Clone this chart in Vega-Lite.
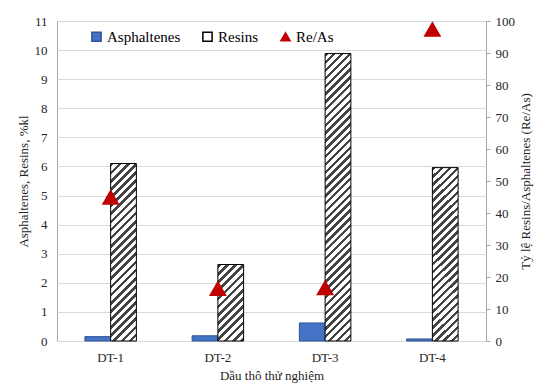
{
"$schema":"https://vega.github.io/schema/vega-lite/v6.json",
"width":429,"height":320,
"autosize":{"type":"none"},
"padding":{"left":57,"top":21,"right":53,"bottom":44},
"background":"white",
"config":{"view":{"stroke":"#a6a6a6","strokeWidth":1},"font":"Liberation Serif",
"legend":{"labelFont":"Liberation Serif","labelFontSize":15,"labelColor":"#000"},
"axis":{"labelFont":"Liberation Serif","titleFont":"Liberation Serif","labelFontSize":13,"titleFontSize":13,"titleFontWeight":"normal","labelColor":"#262626","titleColor":"#262626","domain":false}},
"data":{"values":[
{"cat":"DT-1","series":"Asphaltenes","value":0.15},{"cat":"DT-1","series":"Resins","value":6.1},{"cat":"DT-1","series":"Re/As","value":45},
{"cat":"DT-2","series":"Asphaltenes","value":0.18},{"cat":"DT-2","series":"Resins","value":2.63},{"cat":"DT-2","series":"Re/As","value":16.5},
{"cat":"DT-3","series":"Asphaltenes","value":0.62},{"cat":"DT-3","series":"Resins","value":9.88},{"cat":"DT-3","series":"Re/As","value":16.7},
{"cat":"DT-4","series":"Asphaltenes","value":0.07},{"cat":"DT-4","series":"Resins","value":5.96},{"cat":"DT-4","series":"Re/As","value":97.5}
]},
"encoding":{"x":{"field":"cat","type":"nominal","sort":null,"scale":{"paddingInner":0.52,"paddingOuter":0.26},
"axis":{"title":"Dầu thô thử nghiệm","labelAngle":0,"ticks":false,"grid":false,"labelPadding":10,"titlePadding":5}}},
"layer":[
{"transform":[{"filter":"datum.series !== 'Re/As'"}],
"mark":{"type":"bar","strokeWidth":1},
"encoding":{
"xOffset":{"field":"series","type":"nominal","sort":["Asphaltenes","Resins"],"scale":{"paddingInner":0,"paddingOuter":0}},
"y":{"field":"value","type":"quantitative","scale":{"domain":[0,11],"nice":false},
"axis":{"title":"Asphaltenes, Resins, %kl","values":[0,1,2,3,4,5,6,7,8,9,10,11],"ticks":false,"grid":true,"gridColor":"#d9d9d9","labelPadding":10,"titlePadding":4}},
"stroke":{"field":"series","type":"nominal","scale":{"domain":["Asphaltenes","Resins","Re/As"],"range":["#2F5597","#000000","#C00000"]},
"legend":{"orient":"none","legendX":32,"legendY":8,"direction":"horizontal","title":null,"padding":0,"labelFont":"Liberation Serif","labelFontSize":15,"labelColor":"#000","symbolSize":85,"columnPadding":18,"labelOffset":3}},
"fill":{"field":"series","type":"nominal",
"scale":{"domain":["Asphaltenes","Resins","Re/As"],"range":["#4472C4","#ffffff","#C00000"]},
"legend":{"orient":"none","legendX":32,"legendY":8,"direction":"horizontal","title":null,"padding":0,"labelFont":"Liberation Serif","labelFontSize":15,"labelColor":"#000","symbolSize":85,"columnPadding":18,"labelOffset":3},
"condition":[
{"test":"datum.series === 'Resins' && (datum.cat === 'DT-1' || datum.cat === 'DT-4')","value":{"gradient":"linear","x1":0,"y1":0,"x2":0.16267,"y2":1.12146,"stops":[
{"offset":0,"color":"#444"},{"offset":0.018,"color":"#444"},{"offset":0.018,"color":"#fff"},{"offset":0.04,"color":"#fff"},
{"offset":0.04,"color":"#444"},{"offset":0.058,"color":"#444"},{"offset":0.058,"color":"#fff"},{"offset":0.08,"color":"#fff"},
{"offset":0.08,"color":"#444"},{"offset":0.098,"color":"#444"},{"offset":0.098,"color":"#fff"},{"offset":0.12,"color":"#fff"},
{"offset":0.12,"color":"#444"},{"offset":0.138,"color":"#444"},{"offset":0.138,"color":"#fff"},{"offset":0.16,"color":"#fff"},
{"offset":0.16,"color":"#444"},{"offset":0.178,"color":"#444"},{"offset":0.178,"color":"#fff"},{"offset":0.2,"color":"#fff"},
{"offset":0.2,"color":"#444"},{"offset":0.218,"color":"#444"},{"offset":0.218,"color":"#fff"},{"offset":0.24,"color":"#fff"},
{"offset":0.24,"color":"#444"},{"offset":0.258,"color":"#444"},{"offset":0.258,"color":"#fff"},{"offset":0.28,"color":"#fff"},
{"offset":0.28,"color":"#444"},{"offset":0.298,"color":"#444"},{"offset":0.298,"color":"#fff"},{"offset":0.32,"color":"#fff"},
{"offset":0.32,"color":"#444"},{"offset":0.338,"color":"#444"},{"offset":0.338,"color":"#fff"},{"offset":0.36,"color":"#fff"},
{"offset":0.36,"color":"#444"},{"offset":0.378,"color":"#444"},{"offset":0.378,"color":"#fff"},{"offset":0.4,"color":"#fff"},
{"offset":0.4,"color":"#444"},{"offset":0.418,"color":"#444"},{"offset":0.418,"color":"#fff"},{"offset":0.44,"color":"#fff"},
{"offset":0.44,"color":"#444"},{"offset":0.458,"color":"#444"},{"offset":0.458,"color":"#fff"},{"offset":0.48,"color":"#fff"},
{"offset":0.48,"color":"#444"},{"offset":0.498,"color":"#444"},{"offset":0.498,"color":"#fff"},{"offset":0.52,"color":"#fff"},
{"offset":0.52,"color":"#444"},{"offset":0.538,"color":"#444"},{"offset":0.538,"color":"#fff"},{"offset":0.56,"color":"#fff"},
{"offset":0.56,"color":"#444"},{"offset":0.578,"color":"#444"},{"offset":0.578,"color":"#fff"},{"offset":0.6,"color":"#fff"},
{"offset":0.6,"color":"#444"},{"offset":0.618,"color":"#444"},{"offset":0.618,"color":"#fff"},{"offset":0.64,"color":"#fff"},
{"offset":0.64,"color":"#444"},{"offset":0.658,"color":"#444"},{"offset":0.658,"color":"#fff"},{"offset":0.68,"color":"#fff"},
{"offset":0.68,"color":"#444"},{"offset":0.698,"color":"#444"},{"offset":0.698,"color":"#fff"},{"offset":0.72,"color":"#fff"},
{"offset":0.72,"color":"#444"},{"offset":0.738,"color":"#444"},{"offset":0.738,"color":"#fff"},{"offset":0.76,"color":"#fff"},
{"offset":0.76,"color":"#444"},{"offset":0.778,"color":"#444"},{"offset":0.778,"color":"#fff"},{"offset":0.8,"color":"#fff"},
{"offset":0.8,"color":"#444"},{"offset":0.818,"color":"#444"},{"offset":0.818,"color":"#fff"},{"offset":0.84,"color":"#fff"},
{"offset":0.84,"color":"#444"},{"offset":0.858,"color":"#444"},{"offset":0.858,"color":"#fff"},{"offset":0.88,"color":"#fff"},
{"offset":0.88,"color":"#444"},{"offset":0.898,"color":"#444"},{"offset":0.898,"color":"#fff"},{"offset":0.92,"color":"#fff"},
{"offset":0.92,"color":"#444"},{"offset":0.938,"color":"#444"},{"offset":0.938,"color":"#fff"},{"offset":0.96,"color":"#fff"},
{"offset":0.96,"color":"#444"},{"offset":0.978,"color":"#444"},{"offset":0.978,"color":"#fff"},{"offset":1,"color":"#fff"}]}},
{"test":"datum.series === 'Resins' && datum.cat === 'DT-2'","value":{"gradient":"linear","x1":0,"y1":0,"x2":0.4039,"y2":1.20055,"stops":[
{"offset":0,"color":"#444"},{"offset":0.036,"color":"#444"},{"offset":0.036,"color":"#fff"},{"offset":0.08,"color":"#fff"},
{"offset":0.08,"color":"#444"},{"offset":0.116,"color":"#444"},{"offset":0.116,"color":"#fff"},{"offset":0.16,"color":"#fff"},
{"offset":0.16,"color":"#444"},{"offset":0.196,"color":"#444"},{"offset":0.196,"color":"#fff"},{"offset":0.24,"color":"#fff"},
{"offset":0.24,"color":"#444"},{"offset":0.276,"color":"#444"},{"offset":0.276,"color":"#fff"},{"offset":0.32,"color":"#fff"},
{"offset":0.32,"color":"#444"},{"offset":0.356,"color":"#444"},{"offset":0.356,"color":"#fff"},{"offset":0.4,"color":"#fff"},
{"offset":0.4,"color":"#444"},{"offset":0.436,"color":"#444"},{"offset":0.436,"color":"#fff"},{"offset":0.48,"color":"#fff"},
{"offset":0.48,"color":"#444"},{"offset":0.516,"color":"#444"},{"offset":0.516,"color":"#fff"},{"offset":0.56,"color":"#fff"},
{"offset":0.56,"color":"#444"},{"offset":0.596,"color":"#444"},{"offset":0.596,"color":"#fff"},{"offset":0.64,"color":"#fff"},
{"offset":0.64,"color":"#444"},{"offset":0.676,"color":"#444"},{"offset":0.676,"color":"#fff"},{"offset":0.72,"color":"#fff"},
{"offset":0.72,"color":"#444"},{"offset":0.756,"color":"#444"},{"offset":0.756,"color":"#fff"},{"offset":0.8,"color":"#fff"},
{"offset":0.8,"color":"#444"},{"offset":0.836,"color":"#444"},{"offset":0.836,"color":"#fff"},{"offset":0.88,"color":"#fff"},
{"offset":0.88,"color":"#444"},{"offset":0.916,"color":"#444"},{"offset":0.916,"color":"#fff"},{"offset":0.96,"color":"#fff"},
{"offset":0.96,"color":"#444"},{"offset":0.996,"color":"#444"},{"offset":0.996,"color":"#fff"},{"offset":1,"color":"#fff"}]}},
{"test":"datum.series === 'Resins' && datum.cat === 'DT-3'","value":{"gradient":"linear","x1":0,"y1":0,"x2":0.0968,"y2":1.08089,"stops":[
{"offset":0,"color":"#444"},{"offset":0.011,"color":"#444"},{"offset":0.011,"color":"#fff"},{"offset":0.025,"color":"#fff"},
{"offset":0.025,"color":"#444"},{"offset":0.036,"color":"#444"},{"offset":0.036,"color":"#fff"},{"offset":0.05,"color":"#fff"},
{"offset":0.05,"color":"#444"},{"offset":0.061,"color":"#444"},{"offset":0.061,"color":"#fff"},{"offset":0.075,"color":"#fff"},
{"offset":0.075,"color":"#444"},{"offset":0.086,"color":"#444"},{"offset":0.086,"color":"#fff"},{"offset":0.1,"color":"#fff"},
{"offset":0.1,"color":"#444"},{"offset":0.111,"color":"#444"},{"offset":0.111,"color":"#fff"},{"offset":0.125,"color":"#fff"},
{"offset":0.125,"color":"#444"},{"offset":0.136,"color":"#444"},{"offset":0.136,"color":"#fff"},{"offset":0.15,"color":"#fff"},
{"offset":0.15,"color":"#444"},{"offset":0.161,"color":"#444"},{"offset":0.161,"color":"#fff"},{"offset":0.175,"color":"#fff"},
{"offset":0.175,"color":"#444"},{"offset":0.186,"color":"#444"},{"offset":0.186,"color":"#fff"},{"offset":0.2,"color":"#fff"},
{"offset":0.2,"color":"#444"},{"offset":0.211,"color":"#444"},{"offset":0.211,"color":"#fff"},{"offset":0.225,"color":"#fff"},
{"offset":0.225,"color":"#444"},{"offset":0.236,"color":"#444"},{"offset":0.236,"color":"#fff"},{"offset":0.25,"color":"#fff"},
{"offset":0.25,"color":"#444"},{"offset":0.261,"color":"#444"},{"offset":0.261,"color":"#fff"},{"offset":0.275,"color":"#fff"},
{"offset":0.275,"color":"#444"},{"offset":0.286,"color":"#444"},{"offset":0.286,"color":"#fff"},{"offset":0.3,"color":"#fff"},
{"offset":0.3,"color":"#444"},{"offset":0.311,"color":"#444"},{"offset":0.311,"color":"#fff"},{"offset":0.325,"color":"#fff"},
{"offset":0.325,"color":"#444"},{"offset":0.336,"color":"#444"},{"offset":0.336,"color":"#fff"},{"offset":0.35,"color":"#fff"},
{"offset":0.35,"color":"#444"},{"offset":0.361,"color":"#444"},{"offset":0.361,"color":"#fff"},{"offset":0.375,"color":"#fff"},
{"offset":0.375,"color":"#444"},{"offset":0.386,"color":"#444"},{"offset":0.386,"color":"#fff"},{"offset":0.4,"color":"#fff"},
{"offset":0.4,"color":"#444"},{"offset":0.411,"color":"#444"},{"offset":0.411,"color":"#fff"},{"offset":0.425,"color":"#fff"},
{"offset":0.425,"color":"#444"},{"offset":0.436,"color":"#444"},{"offset":0.436,"color":"#fff"},{"offset":0.45,"color":"#fff"},
{"offset":0.45,"color":"#444"},{"offset":0.461,"color":"#444"},{"offset":0.461,"color":"#fff"},{"offset":0.475,"color":"#fff"},
{"offset":0.475,"color":"#444"},{"offset":0.486,"color":"#444"},{"offset":0.486,"color":"#fff"},{"offset":0.5,"color":"#fff"},
{"offset":0.5,"color":"#444"},{"offset":0.511,"color":"#444"},{"offset":0.511,"color":"#fff"},{"offset":0.525,"color":"#fff"},
{"offset":0.525,"color":"#444"},{"offset":0.536,"color":"#444"},{"offset":0.536,"color":"#fff"},{"offset":0.55,"color":"#fff"},
{"offset":0.55,"color":"#444"},{"offset":0.561,"color":"#444"},{"offset":0.561,"color":"#fff"},{"offset":0.575,"color":"#fff"},
{"offset":0.575,"color":"#444"},{"offset":0.586,"color":"#444"},{"offset":0.586,"color":"#fff"},{"offset":0.6,"color":"#fff"},
{"offset":0.6,"color":"#444"},{"offset":0.611,"color":"#444"},{"offset":0.611,"color":"#fff"},{"offset":0.625,"color":"#fff"},
{"offset":0.625,"color":"#444"},{"offset":0.636,"color":"#444"},{"offset":0.636,"color":"#fff"},{"offset":0.65,"color":"#fff"},
{"offset":0.65,"color":"#444"},{"offset":0.661,"color":"#444"},{"offset":0.661,"color":"#fff"},{"offset":0.675,"color":"#fff"},
{"offset":0.675,"color":"#444"},{"offset":0.686,"color":"#444"},{"offset":0.686,"color":"#fff"},{"offset":0.7,"color":"#fff"},
{"offset":0.7,"color":"#444"},{"offset":0.711,"color":"#444"},{"offset":0.711,"color":"#fff"},{"offset":0.725,"color":"#fff"},
{"offset":0.725,"color":"#444"},{"offset":0.736,"color":"#444"},{"offset":0.736,"color":"#fff"},{"offset":0.75,"color":"#fff"},
{"offset":0.75,"color":"#444"},{"offset":0.761,"color":"#444"},{"offset":0.761,"color":"#fff"},{"offset":0.775,"color":"#fff"},
{"offset":0.775,"color":"#444"},{"offset":0.786,"color":"#444"},{"offset":0.786,"color":"#fff"},{"offset":0.8,"color":"#fff"},
{"offset":0.8,"color":"#444"},{"offset":0.811,"color":"#444"},{"offset":0.811,"color":"#fff"},{"offset":0.825,"color":"#fff"},
{"offset":0.825,"color":"#444"},{"offset":0.836,"color":"#444"},{"offset":0.836,"color":"#fff"},{"offset":0.85,"color":"#fff"},
{"offset":0.85,"color":"#444"},{"offset":0.861,"color":"#444"},{"offset":0.861,"color":"#fff"},{"offset":0.875,"color":"#fff"},
{"offset":0.875,"color":"#444"},{"offset":0.886,"color":"#444"},{"offset":0.886,"color":"#fff"},{"offset":0.9,"color":"#fff"},
{"offset":0.9,"color":"#444"},{"offset":0.911,"color":"#444"},{"offset":0.911,"color":"#fff"},{"offset":0.925,"color":"#fff"},
{"offset":0.925,"color":"#444"},{"offset":0.936,"color":"#444"},{"offset":0.936,"color":"#fff"},{"offset":0.95,"color":"#fff"},
{"offset":0.95,"color":"#444"},{"offset":0.961,"color":"#444"},{"offset":0.961,"color":"#fff"},{"offset":0.975,"color":"#fff"},
{"offset":0.975,"color":"#444"},{"offset":0.986,"color":"#444"},{"offset":0.986,"color":"#fff"},{"offset":1,"color":"#fff"}]}}
]}
}},
{"transform":[{"filter":"datum.series === 'Re/As'"}],
"mark":{"type":"point","filled":true,"size":320,"opacity":1,"strokeWidth":0},
"encoding":{
"y":{"field":"value","type":"quantitative","scale":{"domain":[0,100],"nice":false},
"axis":{"orient":"right","title":"Tỷ lệ Resins/Asphaltenes (Re/As)","titleAngle":270,"values":[0,10,20,30,40,50,60,70,80,90,100],"grid":false,"ticks":true,"tickSize":4,"tickColor":"#a6a6a6","labelPadding":5,"titlePadding":18}},
"fill":{"field":"series","type":"nominal"},
"shape":{"field":"series","type":"nominal","scale":{"domain":["Asphaltenes","Resins","Re/As"],"range":["square","square","triangle-up"]},
"legend":{"orient":"none","legendX":32,"legendY":8,"direction":"horizontal","title":null,"padding":0,"labelFont":"Liberation Serif","labelFontSize":15,"labelColor":"#000","symbolSize":85,"columnPadding":18,"labelOffset":3}}
}}
],
"resolve":{"scale":{"y":"independent"}}
}
